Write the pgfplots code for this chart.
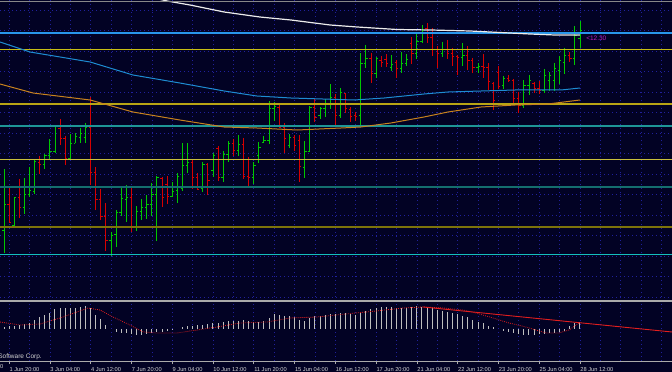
\documentclass[border=0pt]{standalone}
\usepackage{pgfplots}
\pgfplotsset{compat=1.18}
\usepackage{pgfplotstable}
\usepackage{fontspec}
\setmainfont{Liberation Sans}
\definecolor{bg}{RGB}{2,2,36}
\definecolor{gridc}{RGB}{32,32,155}
\definecolor{upc}{RGB}{0,200,0}
\definecolor{dnc}{RGB}{215,0,0}
\definecolor{wma}{RGB}{235,235,235}
\definecolor{bma}{RGB}{30,140,210}
\definecolor{oma}{RGB}{200,130,30}
\definecolor{lvblue}{RGB}{40,150,235}
\definecolor{lvyel}{RGB}{200,190,20}
\definecolor{lvyel2}{RGB}{185,165,20}
\definecolor{lvteal}{RGB}{30,150,150}
\definecolor{lvyel3}{RGB}{200,190,60}
\definecolor{lvteal2}{RGB}{20,110,110}
\definecolor{lvolive}{RGB}{125,115,10}
\definecolor{lvcyan}{RGB}{20,190,190}
\definecolor{histc}{RGB}{190,190,190}
\definecolor{sigc}{RGB}{225,30,30}
\definecolor{labc}{RGB}{210,210,210}
\definecolor{axc}{RGB}{170,170,170}
\definecolor{magc}{RGB}{190,30,190}

\pgfplotstableread{
i O H L C
0 230 169 253 204
2 225 197 227 197
4 207 178 214 194
5 194 167 197 190
6 191 159 194 161
8 164 154 169 155
9 155 139 159 151
10 151 125 153 126
13 158 134 159 143
14 143 133 143 136
15 137 128 143 133
16 137 123 143 127
21 240 232 256 235
22 234 210 247 212
23 212 186 216 198
24 199 185 222 197
26 227 206 231 211
27 211 199 220 207
28 207 195 219 204
29 204 183 216 194
30 194 176 241 177
33 196 182 197 191
34 190 173 203 176
35 188 143 191 165
36 165 143 173 162
39 188 162 192 164
41 170 153 177 155
43 177 151 182 154
44 154 141 162 143
46 150 135 156 144
49 177 162 184 165
50 155 142 163 147
51 142 136 143 140
52 140 101 144 108
53 108 102 121 106
56 145 134 148 137
59 167 141 178 151
60 151 106 152 107
62 115 107 119 108
63 108 99 117 103
64 103 84 109 97
66 115 88 118 92
70 115 53 126 63
71 63 45 68 58
73 73 57 78 58
76 67 55 71 64
78 68 52 73 63
79 63 54 66 59
81 53 32 59 41
82 41 25 43 30
86 53 42 57 49
90 57 43 66 55
93 67 63 73 66
98 85 76 89 78
102 105 80 108 85
103 85 75 95 80
106 90 69 93 75
107 80 72 91 75
108 80 63 91 68
109 70 56 84 60
110 62 48 74 55
112 58 26 65 35
113 38 21 48 30
}\upbars

\pgfplotstableread{
i O H L C
1 204 186 223 222
3 197 179 218 207
7 162 156 174 164
11 128 119 145 138
12 138 136 165 158
17 127 97 185 172
18 172 167 210 199
19 199 189 220 216
20 216 203 251 240
25 197 187 232 227
31 178 177 207 197
32 184 176 204 196
37 162 160 189 177
38 177 173 190 189
40 164 163 195 180
42 148 146 181 177
45 143 139 156 150
47 144 138 179 176
48 176 157 187 177
54 107 104 127 127
55 127 123 153 138
57 137 135 151 145
58 140 135 182 166
61 107 99 122 117
65 97 94 127 115
67 93 93 113 108
68 109 107 122 116
69 115 112 121 116
72 58 53 83 73
74 60 56 67 62
75 59 54 67 63
77 62 60 78 68
80 43 37 64 53
83 28 23 43 37
84 37 28 56 49
85 49 46 68 53
87 49 40 59 53
88 53 48 66 56
89 56 55 75 57
91 55 46 70 60
92 60 58 73 67
94 66 54 78 67
95 67 63 90 81
96 83 82 110 100
97 72 66 89 86
99 78 75 82 80
100 80 79 105 98
101 98 92 113 105
104 83 82 93 88
105 88 81 94 90
111 55 52 62 58
}\dnbars

\pgfplotstableread{
i v
0 2
1 3
2 3
3 4
4 5
5 6
6 9
7 12
8 14
9 16
10 20
11 21
12 21
13 21
14 21
15 22
16 23
17 21
18 14
19 10
20 4
21 0
22 -3
23 -4
24 -4
25 -5
26 -6
27 -6
28 -5
29 -4
30 -3
31 -3
32 -2
33 -1
34 0
35 2
36 3
37 3
38 4
39 4
40 5
41 6
42 6
43 7
44 8
45 8
46 8
47 9
48 8
49 7
50 7
51 8
52 11
53 15
54 14
55 13
56 13
57 12
58 9
59 8
60 11
61 13
62 13
63 14
64 15
65 15
66 16
67 16
68 15
69 14
70 16
71 18
72 20
73 21
74 22
75 22
76 22
77 21
78 21
79 21
80 22
81 23
82 22
83 22
84 21
85 19
86 18
87 17
88 16
89 15
90 13
91 12
92 9
93 7
94 6
95 3
96 2
97 0
98 -2
99 -3
100 -4
101 -5
102 -6
103 -6
104 -6
105 -5
106 -5
107 -4
108 -4
109 -3
110 -2
111 3
112 6
113 7
}\macd

\begin{document}
\begin{tikzpicture}
\fill[bg] (0,0) rectangle (672pt,372pt);
% ---------------- main panel ----------------
\begin{axis}[
  at={(0pt,72pt)}, anchor=south west, scale only axis,
  width=672pt, height=300pt,
  xmin=-0.785, xmax=131.06, ymin=0, ymax=300, y dir=reverse,
  axis line style={draw=none}, major tick length=0pt,
  xtick={1,5,...,129}, ytick={10,30.5,...,298},
  xticklabels={}, yticklabels={},
  grid=major, major grid style={gridc, line width=0.6pt, dash pattern=on 0.6pt off 3.4pt},
]
% OHLC bars
\addplot[draw=upc, line width=0.9pt, quiver={u=0, v=\thisrow{L}-\thisrow{H}}] table[x=i, y=H] {\upbars};
\addplot[draw=upc, line width=0.9pt, quiver={u=-0.35, v=0}] table[x=i, y=O] {\upbars};
\addplot[draw=upc, line width=0.9pt, quiver={u=0.35, v=0}] table[x=i, y=C] {\upbars};
\addplot[draw=dnc, line width=0.9pt, quiver={u=0, v=\thisrow{L}-\thisrow{H}}] table[x=i, y=H] {\dnbars};
\addplot[draw=dnc, line width=0.9pt, quiver={u=-0.35, v=0}] table[x=i, y=O] {\dnbars};
\addplot[draw=dnc, line width=0.9pt, quiver={u=0.35, v=0}] table[x=i, y=C] {\dnbars};
% horizontal levels
\addplot[lvblue, line width=1.3pt] coordinates {(-1,33) (132,33)};
\addplot[lvyel, line width=1pt] coordinates {(-1,50) (132,50)};
\addplot[lvyel2, line width=1.4pt] coordinates {(-1,104) (132,104)};
\addplot[lvteal, line width=1.1pt] coordinates {(-1,126) (132,126)};
\addplot[lvyel3, line width=1pt] coordinates {(-1,159) (132,159)};
\addplot[lvteal2, line width=1.5pt] coordinates {(-1,187) (132,187)};
\addplot[lvolive, line width=1.8pt] coordinates {(-1,227) (132,227)};
\addplot[lvcyan, line width=1pt] coordinates {(-1,254) (132,254)};
% moving averages
\addplot[wma, line width=1.2pt] coordinates {(28.6,-3) (32.0,1) (36.5,5) (43.2,12) (50.2,17) (56.3,20) (64.0,25) (69.3,27) (77.1,29.5) (83.8,30) (91.4,31) (97.3,32.5) (103.2,34) (108.1,35) (113.0,35)};
\addplot[bma, line width=1pt] coordinates {(-0.8,42) (5.1,52) (16.9,62) (25.3,75) (34.5,83) (43.2,91) (49.6,96) (56.3,98) (68.7,100) (74.6,98) (82.4,94) (87.1,92) (93.6,91) (100.3,90) (109.3,90) (113.0,88)};
\addplot[oma, line width=1pt] coordinates {(-0.8,84) (5.7,93) (16.9,100) (25.3,112) (34.5,120) (43.2,127) (49.6,128) (57.5,130) (66.1,128) (70.0,127) (75.9,123) (82.4,117) (87.1,112) (93.6,107) (100.3,105) (106.7,104) (113.0,100)};
\node[anchor=west, inner sep=0pt, font=\fontsize{6.5}{7}\selectfont, text=magc] at (axis cs:114.2,38.5) {<12.30};
\end{axis}
% ---------------- MACD panel ----------------
\begin{axis}[
  at={(0pt,11pt)}, anchor=south west, scale only axis,
  width=672pt, height=59pt,
  xmin=-0.785, xmax=131.06, ymin=-32, ymax=27,
  axis x line*=bottom, axis y line=none,
  x axis line style={draw=axc, line width=0.8pt},
  xtick={1,9,...,113},
  xticklabels={1 Jun 20:00,3 Jun 04:00,4 Jun 12:00,7 Jun 20:00,9 Jun 04:00,10 Jun 12:00,11 Jun 20:00,15 Jun 04:00,16 Jun 12:00,17 Jun 20:00,21 Jun 04:00,22 Jun 12:00,23 Jun 20:00,25 Jun 04:00,28 Jun 12:00},
  minor xtick={1,5,...,129},
  xmajorgrids, xminorgrids,
  major grid style={gridc, line width=0.6pt, dash pattern=on 0.6pt off 3.4pt},
  minor grid style={gridc, line width=0.6pt, dash pattern=on 0.6pt off 3.4pt},
  tick align=outside, major tick length=3pt, minor tick length=0pt,
  xtick style={draw=axc, line width=0.6pt},
  xticklabel style={font=\fontsize{5.7}{6}\selectfont, text=labc, anchor=north west, inner sep=0pt, xshift=0.3pt, yshift=-3pt},
  clip=false,
]
\addplot[ycomb, draw=histc, line width=1pt] table[x=i, y=v] {\macd};
\addplot[sigc, line width=0.8pt, dash pattern=on 0.8pt off 1.2pt] coordinates {(-0.78,7) (3.14,4) (7.06,5) (10.99,11) (14.32,17) (16.48,21) (18.83,19) (21.39,12) (24.72,4) (27.27,-3) (30.02,-4) (33.94,-4) (37.87,-1) (41.79,2) (46.30,6) (51.60,7) (56.11,11) (61.41,12) (65.14,14) (69.06,16) (72.98,18) (78.28,21) (82.21,22) (86.13,21) (90.05,19) (92.60,16) (95.94,11) (99.08,6) (102.41,2) (106.34,-4) (108.89,-4) (110.85,-1) (112.81,6)};
\addplot[sigc, line width=0.9pt] coordinates {(82.21,22) (131.06,-3)};
\node[anchor=base east, inner sep=0pt, font=\fontsize{6.5}{7}\selectfont, text=labc] at (axis cs:7.45,-29) {Copyright {\textcopyright} 2001-2010, MetaQuotes Software Corp.};
\node[anchor=north west, inner sep=0pt, font=\fontsize{5.7}{6}\selectfont, text=labc, xshift=0.3pt, yshift=-3pt] at (axis cs:-7,-32) {31 May 12:00};
\end{axis}
\draw[axc, line width=2pt] (0,70.5pt) -- (672pt,70.5pt);
\draw[axc!80!black, line width=0.8pt] (0,371pt) -- (672pt,371pt);
\pgfresetboundingbox
\path[use as bounding box] (0,0) rectangle (672pt,372pt);
\end{tikzpicture}
\end{document}
